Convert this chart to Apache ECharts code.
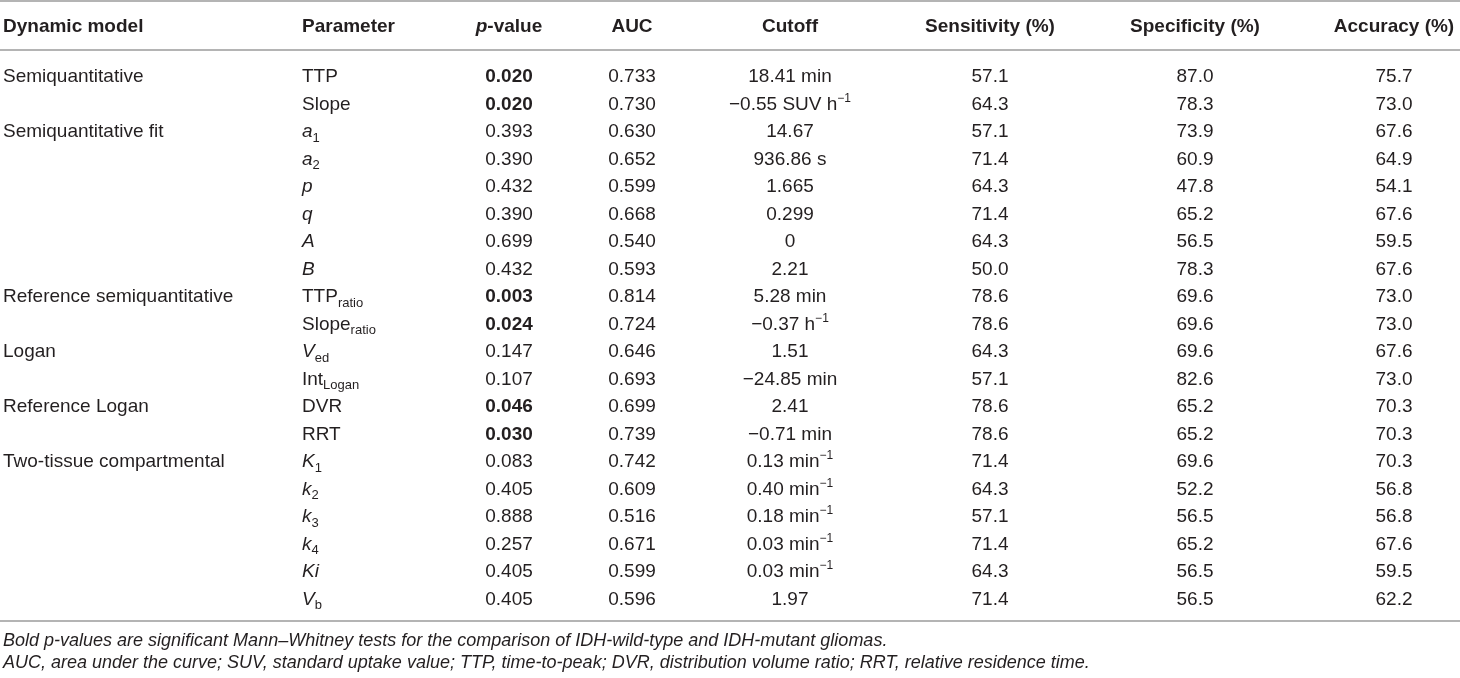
<!DOCTYPE html>
<html>
<head>
<meta charset="utf-8">
<script src="https://cdn.jsdelivr.net/npm/echarts@6/dist/echarts.min.js"></script>
<style>
  html, body { margin: 0; padding: 0; background: #fff; }
  #tabla { width: 1460px; height: 678px; }
</style>
</head>
<body>
<div id="tabla"></div>
<script>
// datos de la tabla
const encabezados = ['Dynamic model', 'Parameter', '{ib|p}-value', 'AUC', 'Cutoff', 'Sensitivity (%)', 'Specificity (%)', 'Accuracy (%)']

const modelos = ['Semiquantitative', '', 'Semiquantitative fit', '', '', '', '', '', 'Reference semiquantitative', '',
  'Logan', '', 'Reference Logan', '', 'Two-tissue compartmental', '', '', '', '', '']

const parametros = ['TTP', 'Slope', '{i|a}{sub|1}', '{i|a}{sub|2}', '{i|p}', '{i|q}', '{i|A}', '{i|B}',
  'TTP{sub|ratio}', 'Slope{sub|ratio}', '{i|V}{sub|ed}', 'Int{sub|Logan}', 'DVR', 'RRT',
  '{i|K}{sub|1}', '{i|k}{sub|2}', '{i|k}{sub|3}', '{i|k}{sub|4}', '{i|Ki}', '{i|V}{sub|b}']

const pvalores = [0.020, 0.020, 0.393, 0.390, 0.432, 0.390, 0.699, 0.432, 0.003, 0.024,
  0.147, 0.107, 0.046, 0.030, 0.083, 0.405, 0.888, 0.257, 0.405, 0.405]

const significativos = [true, true, false, false, false, false, false, false, true, true,
  false, false, true, true, false, false, false, false, false, false]

const auc = [0.733, 0.730, 0.630, 0.652, 0.599, 0.668, 0.540, 0.593, 0.814, 0.724,
  0.646, 0.693, 0.699, 0.739, 0.742, 0.609, 0.516, 0.671, 0.599, 0.596]

const cortes = ['18.41 min', '\u22120.55 SUV h{sup|\u22121}', '14.67', '936.86 s', '1.665', '0.299', '0', '2.21',
  '5.28 min', '\u22120.37 h{sup|\u22121}', '1.51', '\u221224.85 min', '2.41', '\u22120.71 min',
  '0.13 min{sup|\u22121}', '0.40 min{sup|\u22121}', '0.18 min{sup|\u22121}', '0.03 min{sup|\u22121}', '0.03 min{sup|\u22121}', '1.97']

const sensibilidad = [57.1, 64.3, 57.1, 71.4, 64.3, 71.4, 64.3, 50.0, 78.6, 78.6,
  64.3, 57.1, 78.6, 78.6, 71.4, 64.3, 57.1, 71.4, 64.3, 71.4]

const especificidad = [87.0, 78.3, 73.9, 60.9, 47.8, 65.2, 56.5, 78.3, 69.6, 69.6,
  69.6, 82.6, 65.2, 65.2, 69.6, 52.2, 56.5, 65.2, 56.5, 56.5]

const exactitud = [75.7, 73.0, 67.6, 64.9, 54.1, 67.6, 59.5, 67.6, 73.0, 73.0,
  67.6, 73.0, 70.3, 70.3, 70.3, 56.8, 56.8, 67.6, 59.5, 62.2]

const notas = [
  'Bold p-values are significant Mann\u2013Whitney tests for the comparison of IDH-wild-type and IDH-mutant gliomas.',
  'AUC, area under the curve; SUV, standard uptake value; TTP, time-to-peak; DVR, distribution volume ratio; RRT, relative residence time.'
]

// estilos
const familia = '"Liberation Sans", Arial, sans-serif'
const tinta = '#231f20'
const linea = '#b4b4b4'
const tam = 19

function fuente(size, weight, estilo) {
  return { fontFamily: familia, fontSize: size, fontWeight: weight || 'normal', fontStyle: estilo || 'normal', fill: tinta, lineHeight: 24 }
}

const rich = {
  i: fuente(tam, 'normal', 'italic'),
  ib: fuente(tam, 'bold', 'italic'),
  sub: Object.assign(fuente(13), { padding: [12, 0, 0, 0] }),
  sup: Object.assign(fuente(12), { padding: [0, 0, 12, 0] })
}

const columnas = [
  { x: 3, align: 'left', textos: modelos },
  { x: 302, align: 'left', textos: parametros },
  { x: 509, align: 'center', textos: pvalores.map(v => v.toFixed(3)), negrita: significativos },
  { x: 632, align: 'center', textos: auc.map(v => v.toFixed(3)) },
  { x: 790, align: 'center', textos: cortes },
  { x: 990, align: 'center', textos: sensibilidad.map(v => v.toFixed(1)) },
  { x: 1195, align: 'center', textos: especificidad.map(v => v.toFixed(1)) },
  { x: 1394, align: 'center', textos: exactitud.map(v => v.toFixed(1)) }
]

function celda(col) {
  return function (params, api) {
    const txt = col.textos[params.dataIndex]
    if (!txt) return null
    const pt = api.coord([col.x, api.value(0)])
    const negrita = col.negrita && col.negrita[params.dataIndex]
    return {
      type: 'text',
      style: Object.assign(fuente(tam, negrita ? 'bold' : 'normal'), {
        text: txt, x: pt[0], y: pt[1], align: col.align, verticalAlign: 'middle', rich: rich
      })
    }
  }
}

function regla(y) {
  return { type: 'line', shape: { x1: 0, y1: y, x2: 1460, y2: y }, style: { stroke: linea, lineWidth: 2 } }
}

const graficos = [regla(1), regla(50), regla(621)]
columnas.forEach(function (col, i) {
  graficos.push({
    type: 'text', x: col.x, y: 27,
    style: Object.assign(fuente(tam, 'bold'), { text: encabezados[i], align: col.align, verticalAlign: 'middle', rich: rich })
  })
})
notas.forEach(function (t, i) {
  graficos.push({
    type: 'text', x: 3, y: 641 + i * 22,
    style: Object.assign(fuente(18, 'normal', 'italic'), { text: t, align: 'left', verticalAlign: 'middle' })
  })
})

const filas = parametros.map((p, i) => i)

const myChart = echarts.init(document.getElementById('tabla'), null, { renderer: 'canvas' })
option = {
  animation: false,
  backgroundColor: '#fff',
  grid: { left: 0, right: 0, top: 63.25, bottom: 64.75 },
  xAxis: { type: 'value', min: 0, max: 1460, show: false },
  yAxis: { type: 'category', data: filas, inverse: true, show: false },
  graphic: graficos,
  series: columnas.map(function (col) {
    return {
      type: 'custom',
      renderItem: celda(col),
      dimensions: ['fila'],
      encode: { y: 'fila' },
      data: filas.map(i => [i])
    }
  })
}
myChart.setOption(option)
</script>
</body>
</html>
